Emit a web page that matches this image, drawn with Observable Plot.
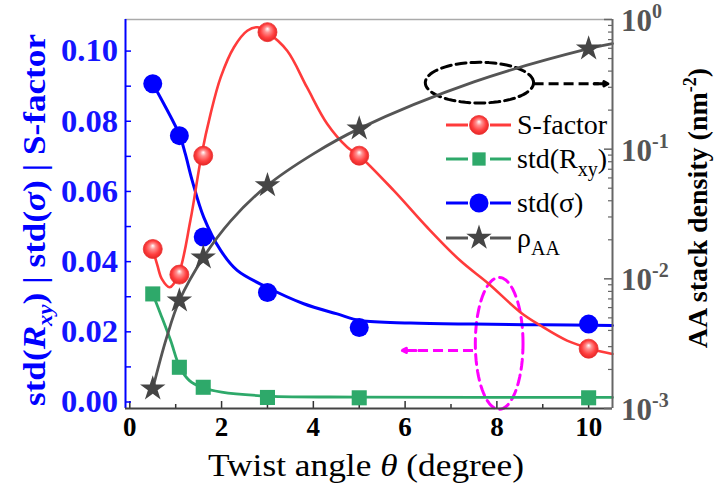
<!DOCTYPE html>
<html><head><meta charset="utf-8">
<script src="https://cdn.jsdelivr.net/npm/d3@7"></script>
<script src="https://cdn.jsdelivr.net/npm/@observablehq/plot@0.6"></script>
<style>
html,body{margin:0;padding:0;background:#fff;overflow:hidden;}
#wrap{position:relative;width:714px;height:493px;}
#wrap svg{position:absolute;left:0;top:0;overflow:visible;}
</style></head><body><div id="wrap"></div>
<script>
// ---------- data ----------
const angles   = [0.5, 1.08, 1.6, 3, 5, 10];
const sFactor  = [0.0436, 0.0363, 0.0702, 0.1054, 0.0702, 0.0152];
const stdRxy   = [0.0308, 0.0099, 0.0042, 0.0013, 0.0012, 0.0012];
const stdSigma = [0.0907, 0.0759, 0.0470, 0.0312, 0.0212, 0.0222];
const rhoAA    = [0.00142, 0.0068, 0.01456, 0.0526, 0.144, 0.596];

// fitted guide curves
const sFitX = [0.5, 0.6, 0.7, 0.87, 1.06, 1.32, 1.56, 1.76, 1.98, 2.27, 2.56, 2.78, 2.99, 3.43, 3.86, 4.30, 4.74, 5.0, 5.75, 6.48, 7.2, 7.82, 8.51, 8.95, 9.53, 10.04, 10.52];
const sFitY = [0.0436, 0.039, 0.035, 0.0327, 0.0363, 0.0517, 0.0702, 0.0821, 0.0925, 0.1011, 0.1058, 0.1068, 0.1054, 0.1001, 0.0897, 0.0793, 0.0726, 0.0702, 0.0603, 0.0498, 0.0403, 0.0337, 0.0256, 0.0218, 0.0175, 0.0152, 0.0137];
const bFitX = [0.5, 0.74, 1.09, 1.21, 1.36, 1.61, 1.98, 2.34, 2.99, 3.79, 4.52, 5.03, 6.12, 7.5, 9, 10.52];
const bFitY = [0.0907, 0.085, 0.0759, 0.0707, 0.0631, 0.0527, 0.0432, 0.0375, 0.0327, 0.028, 0.0251, 0.0232, 0.0225, 0.0222, 0.022, 0.0218];
const gFitX = [0.5, 0.67, 0.89, 1.09, 1.3, 1.56, 2.0, 3.0, 5.0, 10.52];
const gFitY = [0.0308, 0.0251, 0.0175, 0.0099, 0.0061, 0.0042, 0.0028, 0.0017, 0.0014, 0.0013];
const rFitX = [0.5, 0.8, 1.08, 1.6, 2.2, 3, 4, 5, 7.5, 10, 10.52];
const rFitY = [0.00142, 0.0035, 0.0068, 0.01456, 0.028, 0.0526, 0.092, 0.144, 0.33, 0.596, 0.652];

// ticks
const xTicks = [0, 2, 4, 6, 8, 10];
const xMinor = [1, 3, 5, 7, 9];
const yTicks = [0, 0.02, 0.04, 0.06, 0.08, 0.10];
const yMinor = [0.01, 0.03, 0.05, 0.07, 0.09];
const rTicks = [1e-3, 1e-2, 1e-1, 1];
const rTickExp = ["-3", "-2", "-1", "0"];
const rMinor = [2,3,4,5,6,7,8,9].flatMap(m => [1e-3, 1e-2, 1e-1].map(d => m * d));

// annotations (data units)
const magEllipse = {cx: 8.05, cy: 0.0167, rx: 0.52, ry: 0.0188};
const magArrow = {x1: 7.48, x2: 5.94, y: 0.0147};
const blkEllipse = {cx: 7.62, cy: 0.091, rx: 1.18, ry: 0.0058};
const blkArrow = {x1: 8.80, x2: 10.42, y: 0.0907};

// ---------- layout ----------
const W = 714, H = 493, mL = 125, mR = 102, mT = 19, mB = 85;
const xDom = [-0.094, 10.52];
const yDom = [-0.00185, 0.109];
const serif = "'Liberation Serif','Times New Roman',serif";
const RED = "#ff3b3b", GREEN = "#2ea96a", BLUE = "#0000ff", GRAY = "#555";

const pts = angles.map((a, i) => ({a, s: sFactor[i], g: stdRxy[i], b: stdSigma[i], r: rhoAA[i]}));
const zipXY = (xs, ys) => xs.map((x, i) => ({x, y: ys[i]}));
const ellipsePts = e => d3.range(0, 72).map(k => ({x: e.cx + e.rx * Math.cos(k * Math.PI / 36), y: e.cy + e.ry * Math.sin(k * Math.PI / 36)}));

const innerW = W - mL - mR, innerH = H - mT - mB;

const chartA = Plot.plot({
  width: W, height: H, marginLeft: mL, marginRight: mR, marginTop: mT, marginBottom: mB,
  x: {domain: xDom, axis: null},
  y: {domain: yDom, axis: null},
  style: {background: "transparent", overflow: "visible"},
  marks: [
    // frame
    Plot.ruleY([yDom[1]], {stroke: "#aaa", strokeWidth: 1.5}),
    // ticks (inward)
    Plot.ruleX(xTicks, {insetTop: innerH - 7, stroke: "#333", strokeWidth: 1.5}),
    Plot.ruleX(xMinor, {insetTop: innerH - 4, stroke: "#333", strokeWidth: 1.5}),
    Plot.ruleY(yTicks, {insetRight: innerW - 6, stroke: BLUE, strokeWidth: 1.5}),
    Plot.ruleY(yMinor, {insetRight: innerW - 6, stroke: BLUE, strokeWidth: 1.5}),
    // annotations
    Plot.line(ellipsePts(blkEllipse), {x: "x", y: "y", curve: "linear-closed", stroke: "#000", strokeWidth: 3, strokeDasharray: "10,5"}),
    Plot.link([blkArrow], {x1: "x1", x2: d => d.x2 - 0.2, y1: "y", y2: "y", stroke: "#000", strokeWidth: 3, strokeDasharray: "10,5"}),
    Plot.arrow([blkArrow], {x1: d => d.x2 - 0.3, x2: "x2", y1: "y", y2: "y", stroke: "#000", strokeWidth: 3, headLength: 14, headAngle: 55}),
    Plot.line(ellipsePts(magEllipse), {x: "x", y: "y", curve: "linear-closed", stroke: "#ff00ff", strokeWidth: 3, strokeDasharray: "10,6"}),
    Plot.link([magArrow], {x1: "x1", x2: d => d.x2 + 0.2, y1: "y", y2: "y", stroke: "#ff00ff", strokeWidth: 3, strokeDasharray: "10,5"}),
    Plot.arrow([magArrow], {x1: d => d.x2 + 0.3, x2: "x2", y1: "y", y2: "y", stroke: "#ff00ff", strokeWidth: 3, headLength: 14, headAngle: 55}),
    // fitted curves
    Plot.line(zipXY(gFitX, gFitY), {x: "x", y: "y", stroke: GREEN, strokeWidth: 2.8, curve: "catmull-rom"}),
    Plot.line(zipXY(bFitX, bFitY), {x: "x", y: "y", stroke: BLUE, strokeWidth: 3, curve: "catmull-rom"}),
    Plot.line(zipXY(sFitX, sFitY), {x: "x", y: "y", stroke: RED, strokeWidth: 2.6, curve: "catmull-rom"}),
    // points
    Plot.dot(pts, {x: "a", y: "g", symbol: "square", r: 8.5, fill: GREEN, stroke: "none"}),
    Plot.dot(pts, {x: "a", y: "b", symbol: "circle", r: 9.5, fill: BLUE, stroke: "none"}),
    Plot.dot(pts, {x: "a", y: "s", symbol: "circle", r: 9.5, fill: "url(#ball)", stroke: "#e83030", strokeWidth: 0.8}),
    // axes lines
    Plot.ruleX([xDom[0]], {stroke: BLUE, strokeWidth: 2}),
    Plot.ruleY([yDom[0]], {stroke: "#444", strokeWidth: 2}),
    // x tick labels
    Plot.text(xTicks, {x: d => d, frameAnchor: "bottom", dy: 27, text: d => String(d), fontSize: 27, fontWeight: "bold", fontFamily: serif, fill: "#000"})
  ]
});

const chartB = Plot.plot({
  width: W, height: H, marginLeft: mL, marginRight: mR, marginTop: mT, marginBottom: mB,
  x: {domain: xDom, axis: null},
  y: {type: "log", domain: [1e-3, 1], axis: null},
  style: {background: "transparent", overflow: "visible"},
  marks: [
    Plot.ruleY(rTicks, {insetLeft: innerW - 8, stroke: "#666", strokeWidth: 1.5}),
    Plot.ruleY(rMinor, {insetLeft: innerW - 4, stroke: "#666", strokeWidth: 1.2}),
    Plot.line(zipXY(rFitX, rFitY), {x: "x", y: "y", stroke: GRAY, strokeWidth: 2.8, curve: "catmull-rom"}),
    Plot.dot(pts, {x: "a", y: "r", symbol: "star", r: 8, fill: "#454545", stroke: "none"}),
    Plot.ruleX([xDom[1]], {stroke: "#666", strokeWidth: 2})
  ]
});

const wrap = document.getElementById("wrap");
wrap.appendChild(chartA);
wrap.appendChild(chartB);

// gradient for the red balls
const svgA = d3.select(chartA);
const defs = svgA.insert("defs", ":first-child");
const grad = defs.append("radialGradient").attr("id", "ball").attr("cx", "0.5").attr("cy", "0.5").attr("r", "0.55").attr("fx", "0.5").attr("fy", "0.32");
grad.append("stop").attr("offset", "0%").attr("stop-color", "#ffffff");
grad.append("stop").attr("offset", "28%").attr("stop-color", "#ff9090");
grad.append("stop").attr("offset", "65%").attr("stop-color", "#ff4040");
grad.append("stop").attr("offset", "100%").attr("stop-color", "#e02020");

const sx = chartA.scale("x"), sy = chartA.scale("y"), sr = chartB.scale("y");
const svgB = d3.select(chartB);

// left tick labels (condensed bold)
const gL = svgA.append("g").attr("font-family", serif).attr("font-weight", "bold").attr("fill", "#1414ff").attr("font-size", 31);
yTicks.forEach(v => {
  gL.append("text").attr("x", 118).attr("y", sy.apply(v)).attr("dy", "0.35em")
    .attr("text-anchor", "end").attr("textLength", 57).attr("lengthAdjust", "spacingAndGlyphs").text(v.toFixed(2));
});

// right tick labels
const gR = svgB.append("g").attr("font-family", serif).attr("font-weight", "bold").attr("fill", "#555").attr("font-size", 31).attr("text-anchor", "start");
rTicks.forEach((v, i) => {
  const t = gR.append("text").attr("x", 621).attr("y", sr.apply(v) + 12);
  t.append("tspan").text("10");
  t.append("tspan").attr("font-size", 20).attr("dy", -13).text(rTickExp[i]);
});

// axis titles
const gT = svgB.append("g").attr("font-family", serif);
const lt = gT.append("text").attr("transform", "translate(45,220) rotate(-90)").attr("text-anchor", "middle")
  .attr("font-weight", "bold").attr("font-size", 31).attr("fill", BLUE).attr("textLength", 372).attr("lengthAdjust", "spacingAndGlyphs");
lt.append("tspan").text("std(");
lt.append("tspan").attr("font-style", "italic").text("R");
lt.append("tspan").attr("font-style", "italic").attr("font-size", 20).attr("dy", 7).text("xy");
lt.append("tspan").attr("dy", -7).text(") | std(");
lt.append("tspan").attr("font-style", "italic").text("σ");
lt.append("tspan").text(") | S-factor");

const rt = gT.append("text").attr("transform", "translate(707,208) rotate(-90)").attr("text-anchor", "middle")
  .attr("font-weight", "bold").attr("font-size", 28).attr("fill", "#000");
rt.append("tspan").text("AA stack density (nm");
rt.append("tspan").attr("font-size", 18).attr("dy", -11).text("-2");
rt.append("tspan").attr("dy", 11).text(")");

const xt = gT.append("text").attr("x", 366).attr("y", 476).attr("text-anchor", "middle").attr("font-size", 31).attr("fill", "#000")
  .attr("textLength", 316).attr("lengthAdjust", "spacingAndGlyphs");
xt.append("tspan").text("Twist angle ");
xt.append("tspan").attr("font-style", "italic").text("θ");
xt.append("tspan").text(" (degree)");

// legend
const legend = [
  {y: 125, color: RED, marker: "ball", parts: [["S-factor"]]},
  {y: 159, color: GREEN, marker: "square", parts: [["std(R"], ["xy", "sub"], [")"]]},
  {y: 203, color: BLUE, marker: "circle", parts: [["std(σ)"]]},
  {y: 238, color: GRAY, marker: "star", parts: [["ρ"], ["AA", "sub"]]}
];
const gLeg = svgB.append("g").attr("font-family", serif).attr("text-anchor", "start");
legend.forEach(row => {
  gLeg.append("line").attr("x1", 446).attr("x2", 468).attr("y1", row.y).attr("y2", row.y).attr("stroke", row.color).attr("stroke-width", 3);
  gLeg.append("line").attr("x1", 490).attr("x2", 511).attr("y1", row.y).attr("y2", row.y).attr("stroke", row.color).attr("stroke-width", 3);
  let sym, size, fill = row.color;
  if (row.marker === "square") { sym = d3.symbolSquare; size = Math.PI * 7.5 * 7.5; }
  else if (row.marker === "star") { sym = d3.symbolStar; size = Math.PI * 8 * 8; fill = "#454545"; }
  else { sym = d3.symbolCircle; size = Math.PI * 9.5 * 9.5; if (row.marker === "ball") fill = "url(#ball)"; }
  gLeg.append("path").attr("d", d3.symbol(sym, size)()).attr("transform", `translate(479,${row.y})`).attr("fill", fill)
    .attr("stroke", row.marker === "ball" ? "#e83030" : "none").attr("stroke-width", 0.8);
  const t = gLeg.append("text").attr("x", 517).attr("y", row.y + 9).attr("font-size", 28).attr("fill", "#000");
  let shifted = false;
  row.parts.forEach(([s, kind]) => {
    const ts = t.append("tspan").text(s);
    if (kind === "sub") { ts.attr("font-size", 20).attr("dy", 8); shifted = true; }
    else if (shifted) { ts.attr("dy", -8); shifted = false; }
  });
});
</script></body></html>
